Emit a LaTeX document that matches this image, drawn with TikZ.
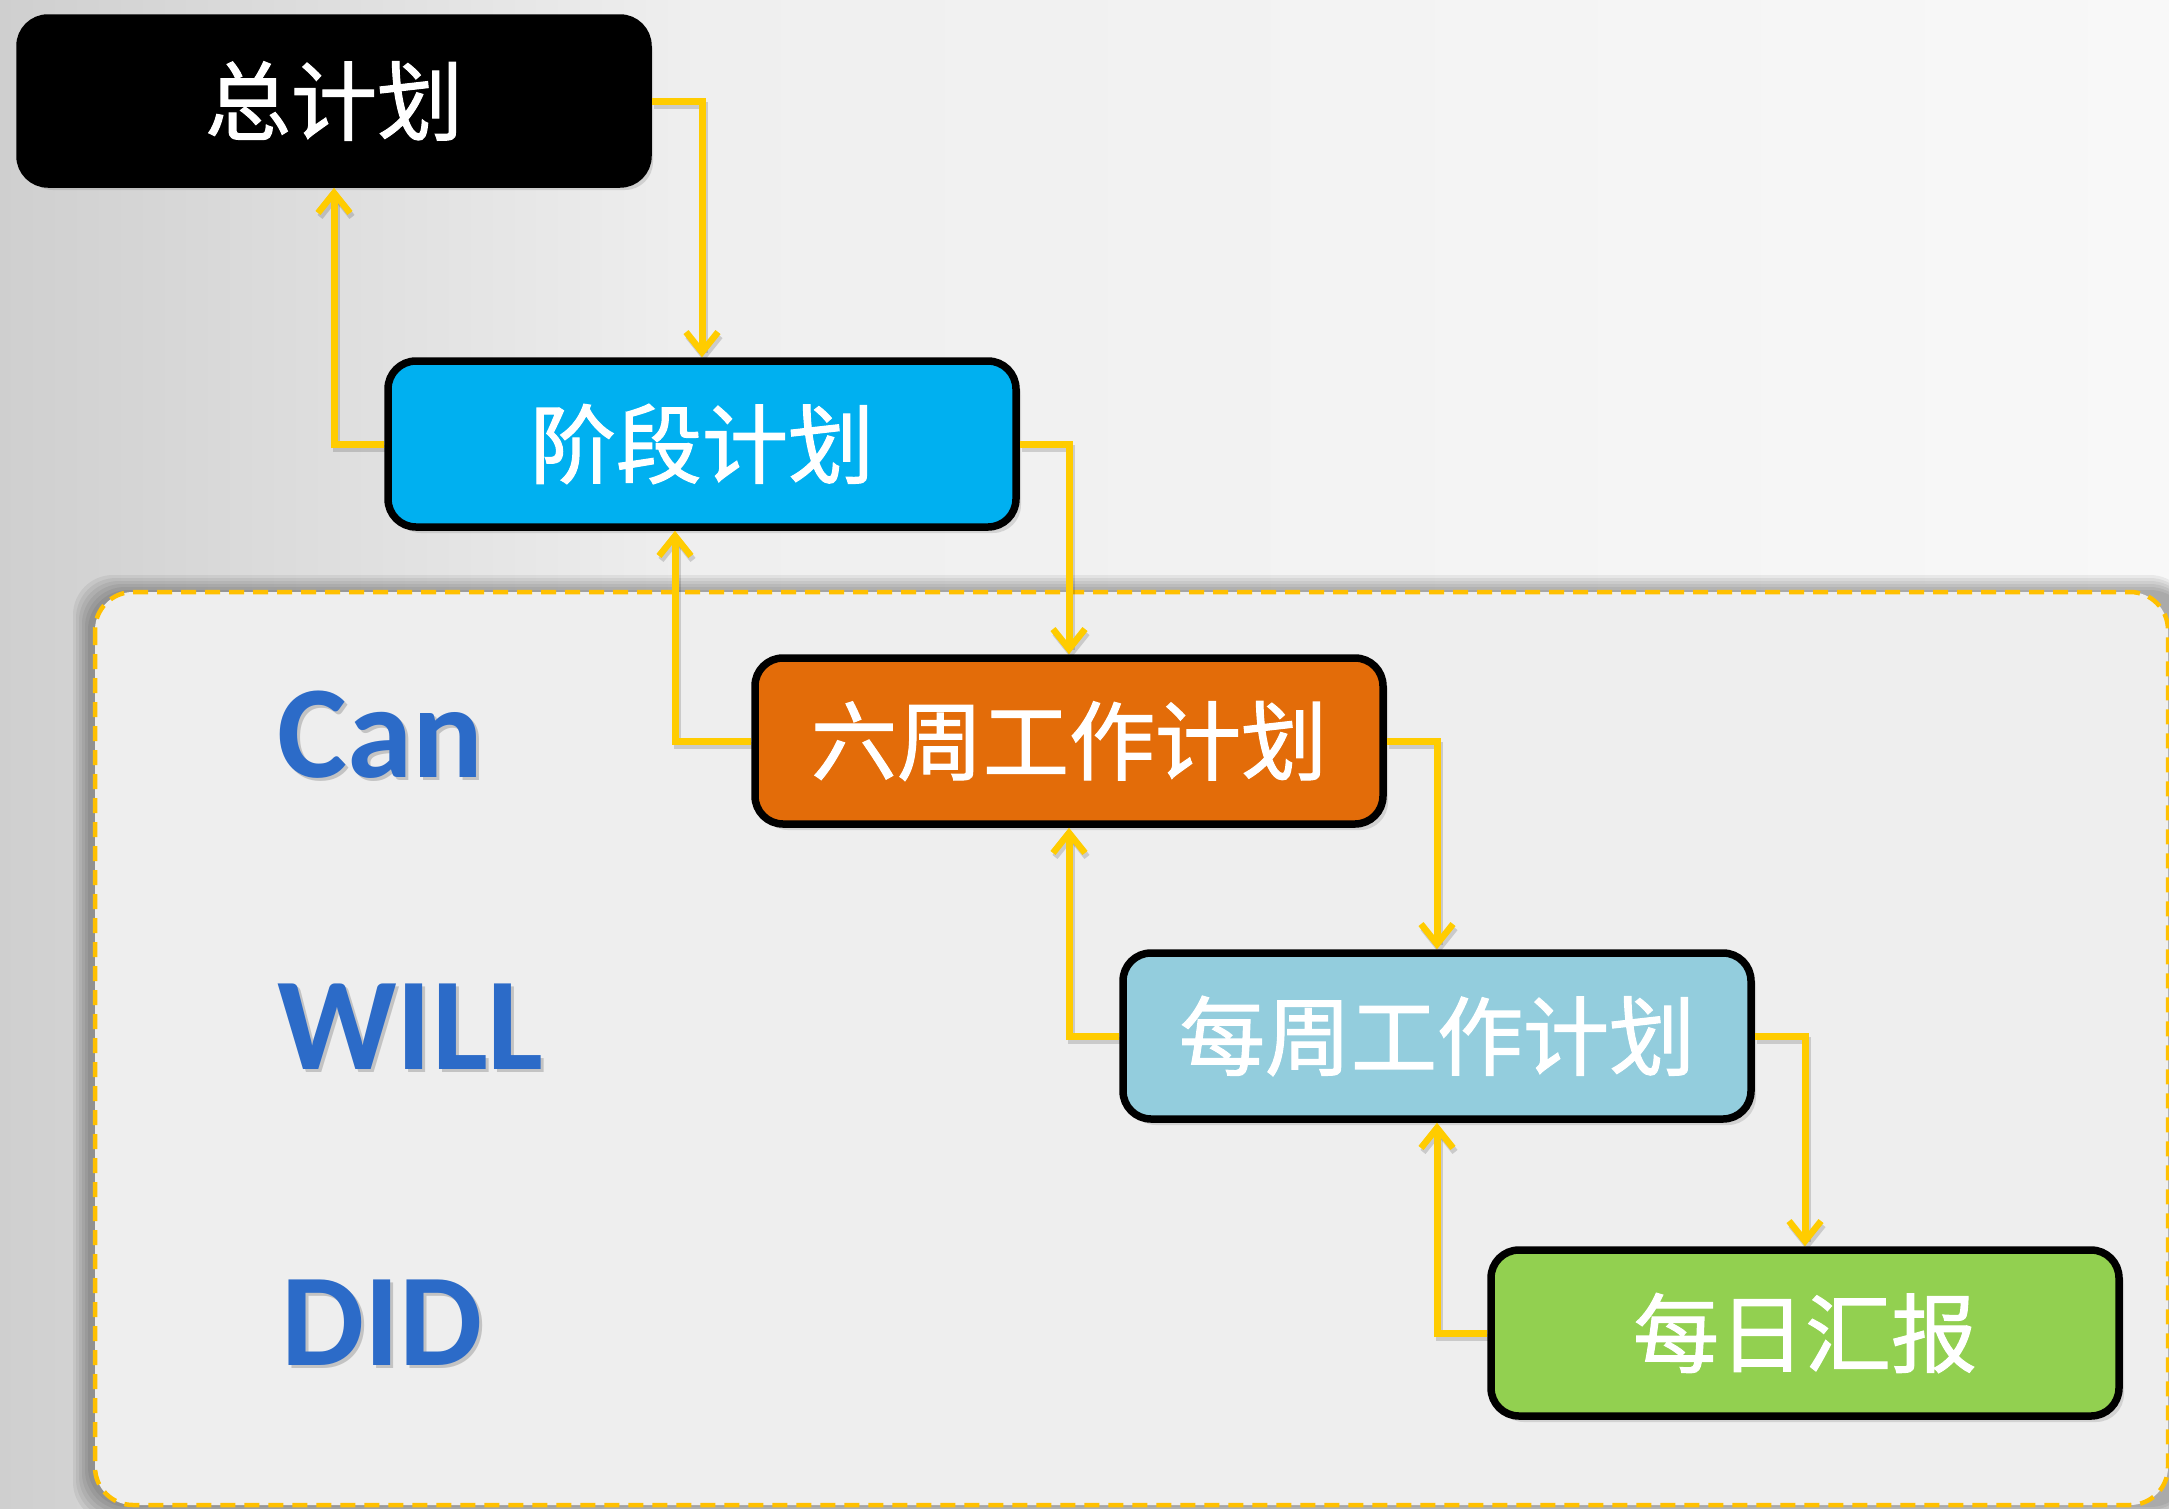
\documentclass[tikz,border=0pt]{standalone}
\usepackage{fontspec}
\newfontfamily\cjk{Noto Sans CJK SC}[FakeBold=1.3]
\newfontfamily\lat{Carlito}
\usetikzlibrary{arrows.meta,shadows}
\definecolor{bgL}{HTML}{CFCFCF}
\definecolor{bgM}{HTML}{EFEFEF}
\definecolor{bgR}{HTML}{F8F8F8}
\definecolor{panel}{HTML}{EEEEEE}
\definecolor{gold}{HTML}{FFC000}
\definecolor{linegold}{HTML}{FFCC00}
\definecolor{cyanbox}{HTML}{00B0F0}
\definecolor{orangebox}{HTML}{E36C09}
\definecolor{lightbluebox}{HTML}{93CDDD}
\definecolor{greenbox}{HTML}{92D050}
\definecolor{wordblue}{HTML}{2C6BC8}
\begin{document}
\begin{tikzpicture}[x=1pt,y=-1pt,
  plan/.style={draw=black, line width=7.5pt, rounded corners=28pt,
    minimum width=628pt, minimum height=166pt, inner sep=0pt,
    text=white, font=\cjk\fontsize{86}{94}\selectfont,
    drop shadow={opacity=0.25, shadow xshift=5pt, shadow yshift=-6pt}},
  conn/.style={draw=linegold, line width=7pt,
    -{Straight Barb[length=20pt,width=32pt,line width=6.5pt]}},
  connshadow/.style={draw=black, opacity=0.15, line width=7pt,
    transform canvas={shift={(2pt,-4pt)}},
    -{Straight Barb[length=20pt,width=32pt,line width=6.5pt]}},
  word/.style={anchor=base west, inner sep=0pt, text=wordblue,
    font=\lat\bfseries\fontsize{132}{140}\selectfont},
  wordshadow/.style={anchor=base west, inner sep=0pt, text=black, opacity=0.18,
    font=\lat\bfseries\fontsize{132}{140}\selectfont}]
\useasboundingbox (0,0) rectangle (2169,1508);
% background
\shade[left color=bgL, right color=bgM] (0,0) rectangle (700,1508);
\shade[left color=bgM, right color=bgR] (699,0) rectangle (2169,1508);
% panel shadow
\foreach \d in {2,5,8,11,14,17} {
  \fill[black, opacity=0.06, rounded corners=40pt]
    (95-\d-5,592-\d) rectangle (2190,1505+\d);
}
% dashed panel
\draw[gold, line width=4.5pt, dash pattern=on 15pt off 9pt, fill=panel,
  rounded corners=38pt] (95,592) rectangle (2168,1505);
% words
\node[wordshadow] (canS) at (280,780) {Can};
\node[word] (can) at (277,777) {Can};
\node[wordshadow] (willS) at (280,1072) {WILL};
\node[word] (will) at (277,1069) {WILL};
\node[wordshadow] (didS) at (284,1368) {DID};
\node[word] (did) at (281,1365) {DID};
% boxes
\node[plan, fill=black, drop shadow={opacity=0.15, shadow xshift=3pt, shadow yshift=-3pt}] (b1) at (334,101) {总计划};
\node[plan, fill=cyanbox] (b2) at (702,444) {阶段计划};
\node[plan, fill=orangebox] (b3) at (1069,741) {六周工作计划};
\node[plan, fill=lightbluebox] (b4) at (1437,1036) {每周工作计划};
\node[plan, fill=greenbox] (b5) at (1805,1333) {每日汇报};
% connector shadows
\draw[connshadow] (b1.east) -| (b2.north);
\draw[connshadow] (b2.west) -| (b1.south);
\draw[connshadow] (b2.east) -| (b3.north);
\draw[connshadow] (b3.west) -| ([xshift=-27pt]b2.south);
\draw[connshadow] (b3.east) -| (b4.north);
\draw[connshadow] (b4.west) -| (b3.south);
\draw[connshadow] (b4.east) -| (b5.north);
\draw[connshadow] (b5.west) -| (b4.south);
% connectors
\draw[conn] (b1.east) -| (b2.north);
\draw[conn] (b2.west) -| (b1.south);
\draw[conn] (b2.east) -| (b3.north);
\draw[conn] (b3.west) -| ([xshift=-27pt]b2.south);
\draw[conn] (b3.east) -| (b4.north);
\draw[conn] (b4.west) -| (b3.south);
\draw[conn] (b4.east) -| (b5.north);
\draw[conn] (b5.west) -| (b4.south);
\end{tikzpicture}
\end{document}
